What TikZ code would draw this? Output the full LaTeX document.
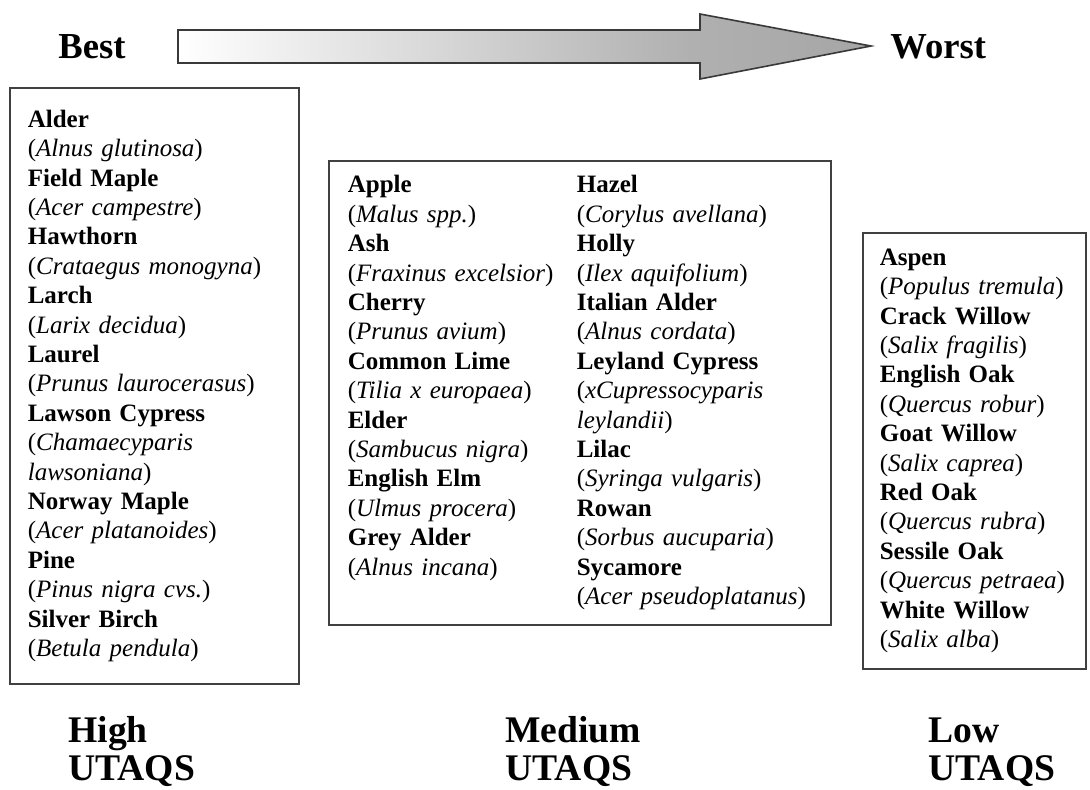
\documentclass[tikz,border=0pt]{standalone}
\usepackage{fontspec}
\setmainfont{Liberation Serif}
\usepackage{tikz}
\usetikzlibrary{positioning}
\pgfdeclarehorizontalshading{bestworst}{100bp}{color(0bp)=(white); color(25bp)=(white); color(62bp)=(gray!62); color(75bp)=(gray!70); color(100bp)=(gray!70)}
\newcommand{\sptree}[2]{\textbf{#1}\\(\textit{#2})}

\begin{document}
\begin{tikzpicture}[x=0.5pt,y=-0.5pt,
  treebox/.style={draw=gray!50!black,line width=0.8pt,anchor=north west,align=left,inner ysep=0pt,
    font=\fontsize{12.5}{14.7}\selectfont},
  heading/.style={font=\fontsize{18.3}{19}\selectfont\bfseries,anchor=base west,inner sep=0pt},
  level/.style={font=\fontsize{18.8}{19}\selectfont\bfseries,anchor=base west,align=left,inner sep=0pt}]
\useasboundingbox (0,0) rectangle (1090,789);
\shadedraw[shading=bestworst,draw=gray!45!black,line width=0.8pt,line join=miter]
  (178,30) -- (700,30) -- (700,14) -- (871,46) -- (700,79) -- (700,63) -- (178,63) -- cycle;
\node[heading] (best) at (58,58) {Best};
\node[heading] (worst) at (890,58) {Worst};
\node[treebox,inner xsep=9pt,text width=126.5pt,minimum width=144.5pt,minimum height=298pt] (high) at (9,87) {%
\sptree{Alder}{Alnus glutinosa}\\
\sptree{Field Maple}{Acer campestre}\\
\sptree{Hawthorn}{Crataegus monogyna}\\
\sptree{Larch}{Larix decidua}\\
\sptree{Laurel}{Prunus laurocerasus}\\
\textbf{Lawson Cypress}\\(\textit{Chamaecyparis}\\\textit{lawsoniana})\\
\sptree{Norway Maple}{Acer platanoides}\\
\sptree{Pine}{Pinus nigra cvs.}\\
\sptree{Silver Birch}{Betula pendula}};
\node[treebox,inner xsep=9.5pt,text width=232pt,minimum width=251pt,minimum height=232pt] (medium) at (328,160) {%
\begin{tabular}{@{}p{114.5pt}@{}l@{}}
\textbf{Apple} & \textbf{Hazel}\\
(\textit{Malus spp.}) & (\textit{Corylus avellana})\\
\textbf{Ash} & \textbf{Holly}\\
(\textit{Fraxinus excelsior}) & (\textit{Ilex aquifolium})\\
\textbf{Cherry} & \textbf{Italian Alder}\\
(\textit{Prunus avium}) & (\textit{Alnus cordata})\\
\textbf{Common Lime} & \textbf{Leyland Cypress}\\
(\textit{Tilia x europaea}) & (\textit{xCupressocyparis}\\
\textbf{Elder} & \textit{leylandii})\\
(\textit{Sambucus nigra}) & \textbf{Lilac}\\
\textbf{English Elm} & (\textit{Syringa vulgaris})\\
(\textit{Ulmus procera}) & \textbf{Rowan}\\
\textbf{Grey Alder} & (\textit{Sorbus aucuparia})\\
(\textit{Alnus incana}) & \textbf{Sycamore}\\
 & (\textit{Acer pseudoplatanus})
\end{tabular}};
\node[treebox,inner xsep=8.5pt,text width=94.5pt,minimum width=111.5pt,minimum height=218pt] (low) at (862,232) {%
\sptree{Aspen}{Populus tremula}\\
\sptree{Crack Willow}{Salix fragilis}\\
\sptree{English Oak}{Quercus robur}\\
\sptree{Goat Willow}{Salix caprea}\\
\sptree{Red Oak}{Quercus rubra}\\
\sptree{Sessile Oak}{Quercus petraea}\\
\sptree{White Willow}{Salix alba}};
\node[level] (highlabel) at (68,780) {High\\UTAQS};
\node[level] (mediumlabel) at (505,780) {Medium\\UTAQS};
\node[level] (lowlabel) at (928,780) {Low\\UTAQS};
\end{tikzpicture}
\end{document}
